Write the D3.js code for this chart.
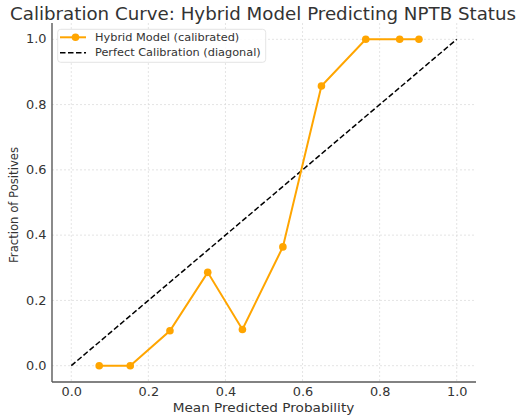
<!DOCTYPE html>
<html><head><meta charset="utf-8">
<script src="https://cdn.jsdelivr.net/npm/d3@7"></script>
<style>body{margin:0;background:#fff}svg{display:block}text{font-family:"DejaVu Sans",sans-serif}</style>
</head><body>
<script>
const meanPredicted = [0.0725, 0.153, 0.256, 0.354, 0.444, 0.549, 0.649, 0.764, 0.852, 0.902];
const fractionPositives = [0, 0, 0.107, 0.286, 0.111, 0.364, 0.857, 1, 1, 1];
const diagonal = [0, 1];
const tickValues = [0, 0.2, 0.4, 0.6, 0.8, 1.0];
const titleText = "Calibration Curve: Hybrid Model Predicting NPTB Status";
const xLabel = "Mean Predicted Probability";
const yLabel = "Fraction of Positives";
const legendLabels = ["Hybrid Model (calibrated)", "Perfect Calibration (diagonal)"];

(function () {
const W = 522, H = 418;
const pL = 52, pR = 476, pT = 23, pB = 382;
const svg = d3.select("body").append("svg").attr("width", W).attr("height", H);
const x = d3.scaleLinear().domain([-0.05, 1.05]).range([pL, pR]);
const y = d3.scaleLinear().domain([-0.05, 1.05]).range([pB, pT]);
const txt = "#333";

// grid
const g = svg.append("g");
g.selectAll(".gx").data(tickValues).join("line")
  .attr("x1", d => x(d)).attr("x2", d => x(d)).attr("y1", pT).attr("y2", pB)
  .attr("stroke", "#d9d9d9").attr("stroke-width", 0.7).attr("stroke-dasharray", "2,2");
g.selectAll(".gy").data(tickValues).join("line")
  .attr("y1", d => y(d)).attr("y2", d => y(d)).attr("x1", pL).attr("x2", pR)
  .attr("stroke", "#d9d9d9").attr("stroke-width", 0.7).attr("stroke-dasharray", "2,2");

// axes
const fmt = d3.format(".1f");
const xAxis = svg.append("g").attr("transform", `translate(0,${pB})`)
  .call(d3.axisBottom(x).tickValues(tickValues).tickFormat(fmt).tickSize(0).tickPadding(6));
const yAxis = svg.append("g").attr("transform", `translate(${pL},0)`)
  .call(d3.axisLeft(y).tickValues(tickValues).tickFormat(fmt).tickSize(0).tickPadding(5.5));
[xAxis, yAxis].forEach(a => {
  a.select(".domain").attr("stroke", "#595959").attr("stroke-width", 1.4);
  a.selectAll("text").attr("font-size", 11.4).attr("fill", txt).attr("font-family", "DejaVu Sans")
    .attr("textLength", 20.5).attr("lengthAdjust", "spacingAndGlyphs");
});
xAxis.select(".domain").attr("d", `M${pL},0H${pR}`);
yAxis.select(".domain").attr("d", `M0,${pT}V${pB}`);

// diagonal
svg.append("line")
  .attr("x1", x(diagonal[0])).attr("y1", y(diagonal[0]))
  .attr("x2", x(diagonal[1])).attr("y2", y(diagonal[1]))
  .attr("stroke", "#000").attr("stroke-width", 1.5).attr("stroke-dasharray", "5.5,2.5");

// calibration curve
const pts = meanPredicted.map((v, i) => [v, fractionPositives[i]]);
svg.append("path").datum(pts)
  .attr("d", d3.line().x(d => x(d[0])).y(d => y(d[1])))
  .attr("fill", "none").attr("stroke", "#FFA500").attr("stroke-width", 2);
svg.selectAll(".pt").data(pts).join("circle")
  .attr("cx", d => x(d[0])).attr("cy", d => y(d[1])).attr("r", 3.8).attr("fill", "#FFA500");

// title & labels
svg.append("text").attr("x", 263).attr("y", 19.5).attr("text-anchor", "middle")
  .attr("font-size", 17.4).attr("fill", txt)
  .attr("textLength", 506).attr("lengthAdjust", "spacingAndGlyphs").text(titleText);
svg.append("text").attr("x", 263.5).attr("y", 411.7).attr("text-anchor", "middle")
  .attr("font-size", 12.3).attr("fill", txt)
  .attr("textLength", 181.6).attr("lengthAdjust", "spacingAndGlyphs").text(xLabel);
svg.append("text").attr("transform", "translate(18,205) rotate(-90)").attr("text-anchor", "middle")
  .attr("font-size", 11.8).attr("fill", txt)
  .attr("textLength", 116).attr("lengthAdjust", "spacingAndGlyphs").text(yLabel);

// legend
const lg = svg.append("g");
lg.append("rect").attr("x", 57.7).attr("y", 29.3).attr("width", 208).attr("height", 33).attr("rx", 3)
  .attr("fill", "#fff").attr("fill-opacity", 0.85).attr("stroke", "#ddd").attr("stroke-width", 0.8);
lg.append("line").attr("x1", 60).attr("x2", 86).attr("y1", 37.3).attr("y2", 37.3)
  .attr("stroke", "#FFA500").attr("stroke-width", 2);
lg.append("circle").attr("cx", 75.5).attr("cy", 37.3).attr("r", 3.8).attr("fill", "#FFA500");
lg.append("line").attr("x1", 60).attr("x2", 86).attr("y1", 52.7).attr("y2", 52.7)
  .attr("stroke", "#000").attr("stroke-width", 1.5).attr("stroke-dasharray", "5.5,2.5");
const legendWidths = [144.3, 165.7];
legendLabels.forEach((t, i) => {
  lg.append("text").attr("x", 95).attr("y", 41 + i * 15.4).attr("font-size", 10.2).attr("fill", txt)
    .attr("textLength", legendWidths[i]).attr("lengthAdjust", "spacingAndGlyphs").text(t);
});
})();
</script>
</body></html>
